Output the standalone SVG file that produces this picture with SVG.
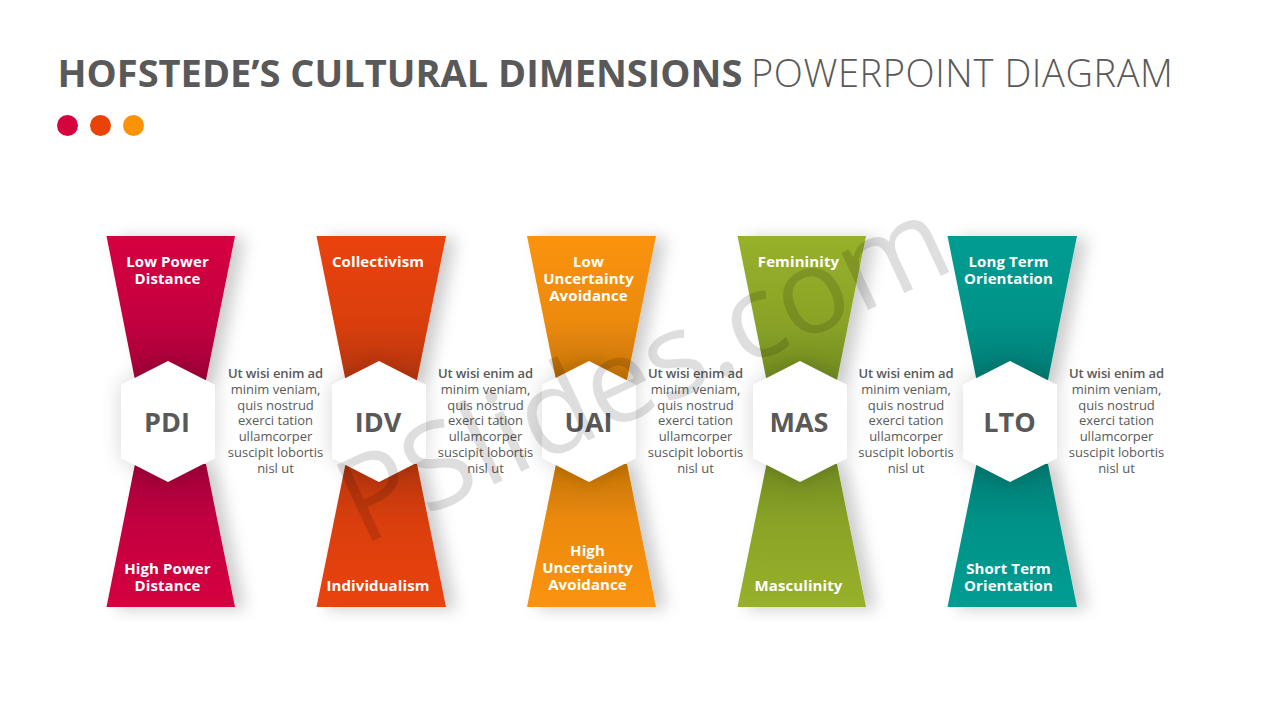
<svg xmlns="http://www.w3.org/2000/svg" width="1280" height="720" viewBox="0 0 1280 720">
<style>
text{font-family:"Open Sans","Noto Sans","DejaVu Sans",sans-serif;text-anchor:middle}
.title{font-size:38px;fill:#595959;text-anchor:start}
.b{font-weight:700}
.l{font-weight:350;letter-spacing:.6px}
.lab{font-size:15px;font-weight:700;fill:#fff;letter-spacing:.1px}
.code{font-size:27px;font-weight:700;fill:#595959}
.body{font-size:13px;fill:#595959}
.hd{font-weight:600;letter-spacing:-.1px}
.hex{fill:#fff;filter:url(#hs)}
.wm{font-size:118px;fill:#000;fill-opacity:.13;font-weight:500}
</style>
<defs>
<filter id="ts" x="-30%" y="-10%" width="170%" height="120%"><feDropShadow dx="10" dy="2" stdDeviation="8" flood-color="#000" flood-opacity=".2"/></filter>
<filter id="hs" x="-40%" y="-30%" width="180%" height="160%"><feDropShadow dx="0" dy="0" stdDeviation="10" flood-color="#000" flood-opacity=".16"/></filter>
<linearGradient id="r1" x1="0" y1="0" x2="0" y2="1"><stop offset="0" stop-color="#D6033F"/><stop offset=".6" stop-color="#C20340"/><stop offset="1" stop-color="#A00238"/></linearGradient>
<linearGradient id="r2" x1="0" y1="1" x2="0" y2="0"><stop offset="0" stop-color="#D6033F"/><stop offset=".6" stop-color="#C20340"/><stop offset="1" stop-color="#A00238"/></linearGradient>
<linearGradient id="o1" x1="0" y1="0" x2="0" y2="1"><stop offset="0" stop-color="#EA430A"/><stop offset=".6" stop-color="#DA3E0A"/><stop offset="1" stop-color="#B43508"/></linearGradient>
<linearGradient id="o2" x1="0" y1="1" x2="0" y2="0"><stop offset="0" stop-color="#EA430A"/><stop offset=".6" stop-color="#DA3E0A"/><stop offset="1" stop-color="#B43508"/></linearGradient>
<linearGradient id="y1" x1="0" y1="0" x2="0" y2="1"><stop offset="0" stop-color="#FB9309"/><stop offset=".6" stop-color="#EC8A08"/><stop offset="1" stop-color="#C47306"/></linearGradient>
<linearGradient id="y2" x1="0" y1="1" x2="0" y2="0"><stop offset="0" stop-color="#FB9309"/><stop offset=".6" stop-color="#EC8A08"/><stop offset="1" stop-color="#C47306"/></linearGradient>
<linearGradient id="g1" x1="0" y1="0" x2="0" y2="1"><stop offset="0" stop-color="#97B12B"/><stop offset=".6" stop-color="#8AA327"/><stop offset="1" stop-color="#708A20"/></linearGradient>
<linearGradient id="g2" x1="0" y1="1" x2="0" y2="0"><stop offset="0" stop-color="#97B12B"/><stop offset=".6" stop-color="#8AA327"/><stop offset="1" stop-color="#708A20"/></linearGradient>
<linearGradient id="t1" x1="0" y1="0" x2="0" y2="1"><stop offset="0" stop-color="#009D93"/><stop offset=".6" stop-color="#009288"/><stop offset="1" stop-color="#007A72"/></linearGradient>
<linearGradient id="t2" x1="0" y1="1" x2="0" y2="0"><stop offset="0" stop-color="#009D93"/><stop offset=".6" stop-color="#009288"/><stop offset="1" stop-color="#007A72"/></linearGradient>
</defs>
<rect width="1280" height="720" fill="#fff"/>
<g id="heading">
<text class="title" x="57.500" y="87"><tspan class="b">HOFSTEDE’S CULTURAL DIMENSIONS</tspan><tspan class="l" x="751">POWERPOINT DIAGRAM</tspan></text>
<circle cx="67.500" cy="125.500" r="10.500" fill="#D6033F"/>
<circle cx="100.500" cy="125.500" r="10.500" fill="#EA430A"/>
<circle cx="133.500" cy="125.500" r="10.500" fill="#FB9309"/>
</g>

<g id="pdi">
<polygon points="106.500,236 235,236 206,380 135,380" fill="url(#r1)" filter="url(#ts)"/>
<polygon points="135,464 206,464 235,607 106.500,607" fill="url(#r2)" filter="url(#ts)"/>
<polygon class="hex" points="168,361 215,385 215,458 168,482 121,458 121,385"/>
<text class="code" x="167" y="432">PDI</text>
<text class="lab" x="167.500" y="267">Low Power</text><text class="lab" x="167.500" y="284">Distance</text>
<text class="lab" x="167.500" y="574">High Power</text><text class="lab" x="167.500" y="591">Distance</text>
<text class="body"><tspan class="hd" x="275.500" y="378">Ut wisi enim ad</tspan><tspan x="275.500" y="394">minim veniam,</tspan><tspan x="275.500" y="410">quis nostrud</tspan><tspan x="275.500" y="425">exerci tation</tspan><tspan x="275.500" y="441">ullamcorper</tspan><tspan x="275.500" y="457">suscipit lobortis</tspan><tspan x="275.500" y="473">nisl ut</tspan></text>
</g>

<g id="idv">
<polygon points="316.500,236 446,236 417,380 345.500,380" fill="url(#o1)" filter="url(#ts)"/>
<polygon points="345.500,464 417,464 446,607 316.500,607" fill="url(#o2)" filter="url(#ts)"/>
<polygon class="hex" points="379,361 426,385 426,458 379,482 332,458 332,385"/>
<text class="code" x="378" y="432">IDV</text>
<text class="lab" x="378" y="267">Collectivism</text>
<text class="lab" x="378" y="591">Individualism</text>
<text class="body"><tspan class="hd" x="485.500" y="378">Ut wisi enim ad</tspan><tspan x="485.500" y="394">minim veniam,</tspan><tspan x="485.500" y="410">quis nostrud</tspan><tspan x="485.500" y="425">exerci tation</tspan><tspan x="485.500" y="441">ullamcorper</tspan><tspan x="485.500" y="457">suscipit lobortis</tspan><tspan x="485.500" y="473">nisl ut</tspan></text>
</g>

<g id="uai">
<polygon points="527,236 656,236 627,380 556,380" fill="url(#y1)" filter="url(#ts)"/>
<polygon points="556,464 627,464 656,607 527,607" fill="url(#y2)" filter="url(#ts)"/>
<polygon class="hex" points="589,361 636,385 636,458 589,482 542,458 542,385"/>
<text class="code" x="588.500" y="432">UAI</text>
<text class="lab" x="588.500" y="267">Low</text><text class="lab" x="588.500" y="284">Uncertainty</text><text class="lab" x="588.500" y="301">Avoidance</text>
<text class="lab" x="587.500" y="556">High</text><text class="lab" x="587.500" y="573">Uncertainty</text><text class="lab" x="587.500" y="590">Avoidance</text>
<text class="body"><tspan class="hd" x="695.500" y="378">Ut wisi enim ad</tspan><tspan x="695.500" y="394">minim veniam,</tspan><tspan x="695.500" y="410">quis nostrud</tspan><tspan x="695.500" y="425">exerci tation</tspan><tspan x="695.500" y="441">ullamcorper</tspan><tspan x="695.500" y="457">suscipit lobortis</tspan><tspan x="695.500" y="473">nisl ut</tspan></text>
</g>

<g id="mas">
<polygon points="737.500,236 866,236 837,380 766.500,380" fill="url(#g1)" filter="url(#ts)"/>
<polygon points="766.500,464 837,464 866,607 737.500,607" fill="url(#g2)" filter="url(#ts)"/>
<polygon class="hex" points="800,361 847,385 847,458 800,482 753,458 753,385"/>
<text class="code" x="799" y="432">MAS</text>
<text class="lab" x="798.500" y="267">Femininity</text>
<text class="lab" x="798.500" y="591">Masculinity</text>
<text class="body"><tspan class="hd" x="906" y="378">Ut wisi enim ad</tspan><tspan x="906" y="394">minim veniam,</tspan><tspan x="906" y="410">quis nostrud</tspan><tspan x="906" y="425">exerci tation</tspan><tspan x="906" y="441">ullamcorper</tspan><tspan x="906" y="457">suscipit lobortis</tspan><tspan x="906" y="473">nisl ut</tspan></text>
</g>

<g id="lto">
<polygon points="947.500,236 1077,236 1048,380 976.500,380" fill="url(#t1)" filter="url(#ts)"/>
<polygon points="976.500,464 1048,464 1077,607 947.500,607" fill="url(#t2)" filter="url(#ts)"/>
<polygon class="hex" points="1010,361 1057,385 1057,458 1010,482 963,458 963,385"/>
<text class="code" x="1009.500" y="432">LTO</text>
<text class="lab" x="1008.500" y="267">Long Term</text><text class="lab" x="1008.500" y="284">Orientation</text>
<text class="lab" x="1008.500" y="574">Short Term</text><text class="lab" x="1008.500" y="591">Orientation</text>
<text class="body"><tspan class="hd" x="1116.500" y="378">Ut wisi enim ad</tspan><tspan x="1116.500" y="394">minim veniam,</tspan><tspan x="1116.500" y="410">quis nostrud</tspan><tspan x="1116.500" y="425">exerci tation</tspan><tspan x="1116.500" y="441">ullamcorper</tspan><tspan x="1116.500" y="457">suscipit lobortis</tspan><tspan x="1116.500" y="473">nisl ut</tspan></text>
</g>

<g id="watermark">
<text class="wm" transform="translate(660,407) rotate(-25)">PSlides.com</text>
</g>
</svg>
